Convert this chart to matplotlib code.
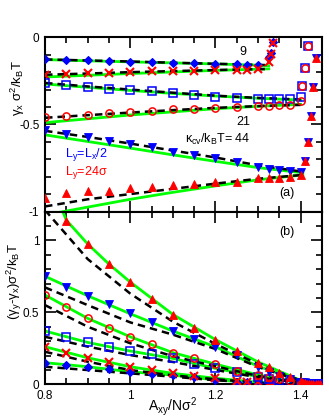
import numpy as np
import matplotlib
matplotlib.use("Agg")
import matplotlib.pyplot as plt

plt.rcParams['font.family'] = ['Liberation Sans', 'DejaVu Sans']
plt.rcParams['mathtext.fontset'] = 'custom'
plt.rcParams['mathtext.rm'] = 'Liberation Sans'
plt.rcParams['mathtext.it'] = 'Liberation Sans'
plt.rcParams['mathtext.fallback'] = 'cm'

# x grids
A_lo = [0.8, 0.85, 0.9, 0.95, 1.0, 1.05, 1.1, 1.15, 1.2, 1.25]
A_k9 = A_lo + [1.275, 1.3, 1.325, 1.33, 1.335]
A_hi = A_lo + [1.3, 1.325, 1.35, 1.375, 1.4]
A_tr21 = [1.402, 1.41, 1.418]
A_tr44 = [1.411, 1.417, 1.425, 1.429, 1.435]
A_tail = [1.405, 1.41, 1.415, 1.42, 1.425, 1.43, 1.435, 1.44, 1.445]

# (a) gamma_x
diam_top = [-0.126, -0.130, -0.132, -0.136, -0.140, -0.143, -0.149, -0.149, -0.153, -0.155,
            -0.158, -0.160, -0.111, -0.092, -0.027]
cross_top = [-0.216, -0.210, -0.206, -0.203, -0.199, -0.195, -0.193, -0.191, -0.189, -0.186,
             -0.188, -0.182, -0.140, -0.095, -0.031]
sq_top = [-0.264, -0.273, -0.287, -0.295, -0.302, -0.308, -0.318, -0.331, -0.340, -0.348,
          -0.352, -0.352, -0.352, -0.356, -0.341]
circ_top = [-0.455, -0.451, -0.444, -0.436, -0.430, -0.421, -0.411, -0.409, -0.404, -0.401,
            -0.394, -0.394, -0.390, -0.390, -0.365]
tr21_top = [-0.279, -0.174, -0.050]
dtri_top = [-0.532, -0.554, -0.573, -0.593, -0.612, -0.631, -0.656, -0.675, -0.694, -0.717,
            -0.743, -0.755, -0.763, -0.765, -0.771]
utri_top = [-0.920, -0.895, -0.885, -0.880, -0.866, -0.862, -0.847, -0.841, -0.828, -0.828,
            -0.809, -0.810, -0.807, -0.800, -0.788]
tr44_top = [-0.709, -0.599, -0.451, -0.287, -0.117]

# (b) gamma_y - gamma_x
diam_bot = [0.150, 0.134, 0.122, 0.106, 0.087, 0.071, 0.064, 0.053, 0.030, 0.018,
            0.015, 0.012, 0.006, 0.004, 0.003]
cross_bot = [0.261, 0.215, 0.184, 0.153, 0.122, 0.099, 0.076, 0.060, 0.042, 0.023,
             0.016, 0.014, 0.006, 0.004, 0.003]
sq_bot = [0.370, 0.326, 0.291, 0.261, 0.231, 0.208, 0.180, 0.141, 0.111, 0.087,
          0.053, 0.037, 0.023, 0.016, 0.008]
circ_bot = [0.619, 0.534, 0.458, 0.393, 0.330, 0.277, 0.219, 0.180, 0.141, 0.094,
            0.064, 0.049, 0.035, 0.023, 0.010]
dtri_bot = [0.751, 0.673, 0.614, 0.557, 0.492, 0.430, 0.370, 0.312, 0.261, 0.203,
            0.122, 0.087, 0.060, 0.037, 0.015]
utri_bot = [1.330, 1.135, 0.973, 0.834, 0.707, 0.589, 0.481, 0.388, 0.307, 0.233,
            0.150, 0.118, 0.080, 0.053, 0.025]
tail_bot = [0.008, 0.006, 0.005, 0.004, 0.004, 0.003, 0.003, 0.003, 0.003]

# theory curves
L_k9 = [0.8, 0.9, 1.0, 1.1, 1.2, 1.3, 1.325]
L_k21 = [0.8, 0.9, 1.0, 1.1, 1.2, 1.3, 1.4]
L_k44 = [0.8, 0.9, 1.0, 1.1, 1.2, 1.3, 1.405]
diam_top_g = [-0.128, -0.135, -0.141, -0.147, -0.153, -0.160, -0.163]
diam_top_d = [-0.127, -0.133, -0.139, -0.146, -0.152, -0.158, -0.160]
cross_top_g = [-0.228, -0.218, -0.208, -0.199, -0.190, -0.183, -0.181]
cross_top_d = [-0.215, -0.208, -0.200, -0.194, -0.188, -0.183, -0.182]
sq_top_g = [-0.268, -0.287, -0.305, -0.322, -0.337, -0.350, -0.360]
sq_top_d = [-0.262, -0.282, -0.300, -0.318, -0.335, -0.348, -0.357]
circ_top_g = [-0.490, -0.468, -0.446, -0.428, -0.410, -0.396, -0.385]
circ_top_d = [-0.462, -0.447, -0.432, -0.418, -0.405, -0.395, -0.388]
dtri_top_g = [-0.560, -0.598, -0.636, -0.675, -0.712, -0.748, -0.778]
dtri_top_d = [-0.537, -0.572, -0.610, -0.650, -0.690, -0.735, -0.772]
utri_top_g = [-1.020, -0.975, -0.930, -0.890, -0.853, -0.818, -0.790]
utri_top_d = [-0.971, -0.930, -0.900, -0.870, -0.840, -0.812, -0.790]

diam_bot_g = [0.150, 0.122, 0.087, 0.064, 0.030, 0.012, 0.008]
diam_bot_d = [0.122, 0.099, 0.076, 0.053, 0.028, 0.011, 0.008]
cross_bot_g = [0.261, 0.184, 0.122, 0.076, 0.042, 0.014, 0.008]
cross_bot_d = [0.226, 0.157, 0.099, 0.062, 0.035, 0.012, 0.008]
sq_bot_g = [0.370, 0.291, 0.231, 0.180, 0.111, 0.053, 0.010]
sq_bot_d = [0.330, 0.262, 0.203, 0.155, 0.100, 0.048, 0.010]
circ_bot_g = [0.620, 0.458, 0.330, 0.220, 0.140, 0.065, 0.012]
circ_bot_d = [0.550, 0.400, 0.285, 0.195, 0.125, 0.058, 0.012]
dtri_bot_g = [0.750, 0.615, 0.490, 0.370, 0.260, 0.125, 0.020]
dtri_bot_d = [0.673, 0.550, 0.430, 0.345, 0.245, 0.120, 0.020]
L_utri = [0.8, 0.85, 0.9, 0.95, 1.0, 1.1, 1.2, 1.3, 1.405]
utri_bot_g = [1.500, 1.140, 0.975, 0.835, 0.710, 0.485, 0.310, 0.155, 0.020]
utri_bot_d = [1.210, 1.040, 0.870, 0.750, 0.630, 0.435, 0.280, 0.140, 0.020]

BLUE = '#0000ff'
RED = '#ff0000'
GREEN = '#00ff00'


def curves(ax, x, g, d):
    ax.plot(x, g, color=GREEN, lw=2.0, zorder=2)
    ax.plot(x, d, color='black', lw=1.8, ls=(0, (3, 2)), zorder=3)


def marks(ax, x, y, m, c):
    if m in ('s', 'o'):
        ax.plot(x, y, ls='none', marker=m, ms=5.2, mfc='none', mec=c, mew=1.1, zorder=4)
    elif m == 'x':
        ax.plot(x, y, ls='none', marker=m, ms=5.2, mec=c, mew=1.5, zorder=4)
    elif m == 'D':
        ax.plot(x, y, ls='none', marker=m, ms=4, mfc=c, mec=c, mew=0.8, zorder=4)
    else:
        ax.plot(x, y, ls='none', marker=m, ms=5.6, mfc=c, mec=c, mew=0.6, zorder=4)


fig = plt.figure(figsize=(3.29, 4.20), dpi=100)
W, H = 329.0, 420.0
x0, x1 = 45 / W, 322 / W
ax1 = fig.add_axes([x0, 1 - 211.5 / H, x1 - x0, (211.5 - 37.3) / H])
ax2 = fig.add_axes([x0, 1 - 384.3 / H, x1 - x0, (384.3 - 211.5) / H])

# panel (a)
curves(ax1, L_k9, diam_top_g, diam_top_d)
curves(ax1, L_k9, cross_top_g, cross_top_d)
curves(ax1, L_k21, sq_top_g, sq_top_d)
curves(ax1, L_k21, circ_top_g, circ_top_d)
curves(ax1, L_k44, dtri_top_g, dtri_top_d)
curves(ax1, L_k44, utri_top_g, utri_top_d)
marks(ax1, A_k9, diam_top, 'D', BLUE)
marks(ax1, A_k9, cross_top, 'x', RED)
marks(ax1, A_hi + A_tr21, sq_top + tr21_top, 's', BLUE)
marks(ax1, A_hi + A_tr21, circ_top + tr21_top, 'o', RED)
marks(ax1, A_hi + A_tr44, dtri_top + tr44_top, 'v', BLUE)
marks(ax1, A_hi + A_tr44, utri_top + tr44_top, '^', RED)

# panel (b)
curves(ax2, L_k9, diam_bot_g, diam_bot_d)
curves(ax2, L_k9, cross_bot_g, cross_bot_d)
curves(ax2, L_k21, sq_bot_g, sq_bot_d)
curves(ax2, L_k21, circ_bot_g, circ_bot_d)
curves(ax2, L_k44, dtri_bot_g, dtri_bot_d)
curves(ax2, L_utri, utri_bot_g, utri_bot_d)
marks(ax2, A_k9, diam_bot, 'D', BLUE)
marks(ax2, A_k9, cross_bot, 'x', RED)
marks(ax2, A_hi + A_tail, sq_bot + tail_bot, 's', BLUE)
marks(ax2, A_hi + A_tail, circ_bot + tail_bot, 'o', RED)
marks(ax2, A_hi + A_tail, dtri_bot + tail_bot, 'v', BLUE)
marks(ax2, A_hi + A_tail, utri_bot + tail_bot, '^', RED)

for ax in (ax1, ax2):
    ax.set_xlim(0.8, 1.45)
    ax.set_xticks([0.8, 1.0, 1.2, 1.4])
    ax.set_xticks(np.arange(0.8, 1.451, 0.05), minor=True)
    ax.tick_params(which='both', direction='in', top=True, right=True, width=1.2,
                   labelsize=8.5, pad=4)
    ax.tick_params(which='major', length=8)
    ax.tick_params(which='minor', length=4.5)
    for s in ax.spines.values():
        s.set_linewidth(1.5)

ax1.set_ylim(-1, 0)
ax1.set_yticks([-1, -0.5, 0])
ax1.set_yticklabels(['-1', '-0.5', '0'])
ax1.set_yticks(np.arange(-1, 0.001, 0.1), minor=True)
ax1.tick_params(labelbottom=False)

ax2.set_ylim(0, 1.2)
ax2.set_yticks([0, 0.5, 1])
ax2.set_yticklabels(['0', '0.5', '1'])
ax2.set_yticks(np.arange(0, 1.201, 0.1), minor=True)
ax2.set_xticklabels(['0.8', '1', '1.2', '1.4'])

ax1.text(0.715, 0.916, '9', transform=ax1.transAxes, fontsize=9, ha='center', va='center')
ax1.text(0.715, 0.514, '21', transform=ax1.transAxes, fontsize=9, ha='center', va='center')
ax1.text(0.505, 0.411, r'$\mathregular{\kappa_{cv}/k_BT}$= 44', transform=ax1.transAxes,
         fontsize=9, ha='left', va='center')
ax1.text(0.072, 0.325, r'$\mathregular{L_y}$=$\mathregular{L_x}$/2', transform=ax1.transAxes,
         fontsize=9, color=BLUE, ha='left', va='center')
ax1.text(0.072, 0.222, r'$\mathregular{L_y}$=24$\mathregular{\sigma}$', transform=ax1.transAxes,
         fontsize=9, color=RED, ha='left', va='center')
ax1.text(0.874, 0.107, '(a)', transform=ax1.transAxes, fontsize=9, ha='center', va='center')
ax2.text(0.874, 0.881, '(b)', transform=ax2.transAxes, fontsize=9, ha='center', va='center')

fig.text(18 / W, 1 - 88 / H, r'$\mathregular{\gamma_x\ \sigma^2/k_BT}$', rotation=90,
         fontsize=9.5, ha='center', va='center')
fig.text(14 / W, 1 - 281 / H, r'$\mathregular{(\gamma_y}$-$\mathregular{\gamma_x)\sigma^2/k_BT}$',
         rotation=90, fontsize=9.5, ha='center', va='center')
fig.text(172 / W, 1 - 407 / H, r'$\mathregular{A_{xy}/N\sigma^2}$', fontsize=10,
         ha='center', va='center')

fig.savefig('out.png', dpi=100)
